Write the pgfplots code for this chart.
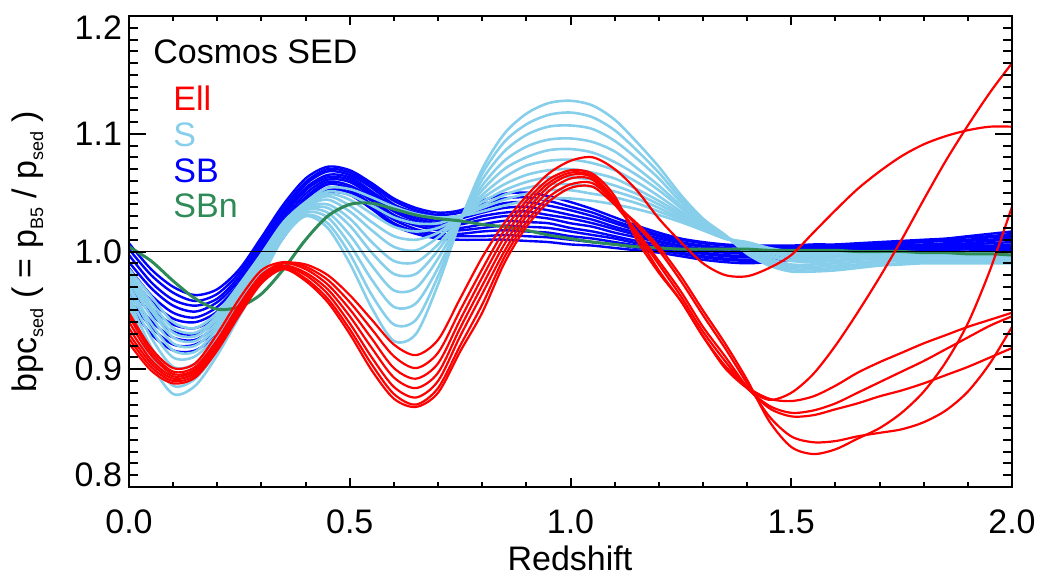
\documentclass[border=0pt]{standalone}
\usepackage{pgfplots}
\pgfplotsset{compat=1.18}
\usepackage{pgfplotstable}
\usepackage{fontspec}
\setmainfont{Liberation Sans}
\definecolor{skyb}{RGB}{135,206,235}
\definecolor{seag}{RGB}{46,139,87}
\newcommand{\lbl}{\fontsize{17}{20}\selectfont}
\newcommand{\sub}[1]{\raisebox{-0.35ex}{\fontsize{9}{10}\selectfont #1}}

\pgfplotstableread{
x r1 r2 r3 r4 r5 r6 r7
0.00 0.945 0.948 0.940 0.935 0.930 0.926 0.922
0.05 0.915 0.918 0.912 0.908 0.905 0.902 0.899
0.10 0.898 0.901 0.896 0.894 0.892 0.890 0.888
0.15 0.902 0.905 0.900 0.899 0.897 0.895 0.893
0.20 0.925 0.930 0.924 0.922 0.920 0.918 0.916
0.25 0.955 0.960 0.954 0.952 0.950 0.948 0.946
0.30 0.980 0.984 0.980 0.978 0.977 0.975 0.973
0.35 0.990 0.991 0.990 0.988 0.987 0.986 0.985
0.40 0.989 0.987 0.985 0.982 0.980 0.977 0.975
0.45 0.980 0.976 0.972 0.968 0.964 0.960 0.957
0.50 0.963 0.957 0.951 0.945 0.939 0.934 0.930
0.55 0.942 0.934 0.926 0.918 0.910 0.904 0.899
0.60 0.921 0.911 0.901 0.893 0.885 0.879 0.875
0.65 0.912 0.901 0.892 0.884 0.876 0.870 0.868
0.70 0.925 0.914 0.905 0.897 0.890 0.884 0.880
0.75 0.960 0.950 0.942 0.935 0.928 0.920 0.915
0.80 0.995 0.985 0.978 0.971 0.964 0.955 0.948
0.85 1.024 1.018 1.012 1.006 1.000 0.995 0.990
0.90 1.047 1.043 1.039 1.034 1.030 1.025 1.021
0.95 1.066 1.061 1.058 1.055 1.051 1.046 1.042
1.00 1.077 1.069 1.067 1.065 1.062 1.057 1.054
1.05 1.080 1.066 1.064 1.063 1.061 1.058 1.055
1.10 1.070 1.047 1.044 1.042 1.040 1.042 1.040
1.15 1.052 1.010 1.014 1.016 1.017 1.022 1.024
1.20 1.028 0.982 0.984 0.989 0.992 1.001 1.004
1.25 1.008 0.958 0.958 0.962 0.966 0.975 0.979
1.30 0.990 0.928 0.928 0.932 0.936 0.946 0.950
1.35 0.980 0.901 0.903 0.907 0.911 0.918 0.922
1.40 0.979 0.884 0.885 0.884 0.885 0.888 0.891
1.45 0.986 0.874 0.875 0.869 0.867 0.860 0.856
1.50 0.997 0.880 0.873 0.863 0.860 0.843 0.834
1.55 1.016 0.896 0.877 0.865 0.861 0.838 0.828
1.60 1.035 0.920 0.886 0.871 0.866 0.839 0.832
1.65 1.053 0.948 0.897 0.880 0.871 0.843 0.841
1.70 1.068 0.978 0.906 0.889 0.877 0.846 0.850
1.75 1.081 1.010 0.914 0.898 0.882 0.849 0.863
1.80 1.091 1.044 0.922 0.907 0.888 0.855 0.881
1.85 1.098 1.077 0.929 0.917 0.895 0.865 0.906
1.90 1.103 1.107 0.936 0.927 0.902 0.881 0.939
1.95 1.106 1.135 0.942 0.937 0.910 0.905 0.984
2.00 1.106 1.160 0.948 0.945 0.918 0.936 1.038
}\redtab

\pgfplotstableread{
x s1 s2 s3 s4 s5 s6 s7 s8 s9 s10 s11
0.00 0.950 0.954 0.959 0.963 0.968 0.971 0.975 0.977 0.980 0.982 0.985
0.05 0.905 0.912 0.919 0.927 0.934 0.939 0.945 0.950 0.953 0.957 0.962
0.10 0.879 0.886 0.894 0.902 0.910 0.916 0.922 0.927 0.931 0.935 0.940
0.15 0.886 0.892 0.898 0.905 0.911 0.915 0.920 0.924 0.928 0.931 0.935
0.20 0.912 0.916 0.921 0.926 0.930 0.934 0.937 0.940 0.943 0.945 0.948
0.25 0.945 0.948 0.952 0.955 0.959 0.961 0.964 0.966 0.968 0.970 0.972
0.30 0.978 0.980 0.983 0.986 0.988 0.990 0.992 0.994 0.995 0.996 0.998
0.35 1.012 1.014 1.015 1.017 1.019 1.020 1.021 1.022 1.023 1.024 1.025
0.40 1.030 1.031 1.033 1.035 1.036 1.037 1.038 1.039 1.040 1.041 1.042
0.45 1.020 1.024 1.029 1.033 1.037 1.040 1.044 1.047 1.049 1.051 1.054
0.50 0.990 0.998 1.006 1.014 1.022 1.028 1.034 1.039 1.044 1.048 1.053
0.55 0.952 0.963 0.976 0.988 0.999 1.008 1.018 1.025 1.032 1.039 1.046
0.60 0.924 0.938 0.953 0.967 0.981 0.992 1.004 1.013 1.021 1.029 1.038
0.65 0.930 0.942 0.956 0.969 0.981 0.991 1.001 1.010 1.017 1.024 1.032
0.70 0.972 0.979 0.986 0.994 1.001 1.006 1.012 1.016 1.020 1.024 1.029
0.75 1.025 1.026 1.026 1.027 1.028 1.028 1.029 1.029 1.029 1.030 1.030
0.80 1.070 1.066 1.061 1.056 1.052 1.048 1.045 1.042 1.039 1.037 1.034
0.85 1.100 1.093 1.085 1.077 1.070 1.063 1.057 1.052 1.048 1.044 1.039
0.90 1.117 1.108 1.099 1.089 1.080 1.073 1.065 1.059 1.054 1.049 1.043
0.95 1.126 1.116 1.106 1.095 1.086 1.077 1.069 1.063 1.057 1.052 1.045
1.00 1.128 1.118 1.107 1.096 1.087 1.078 1.070 1.063 1.057 1.052 1.045
1.05 1.124 1.114 1.104 1.093 1.084 1.075 1.067 1.061 1.055 1.049 1.043
1.10 1.112 1.103 1.094 1.085 1.076 1.069 1.062 1.056 1.051 1.046 1.040
1.15 1.093 1.086 1.079 1.071 1.065 1.059 1.053 1.049 1.045 1.041 1.036
1.20 1.072 1.067 1.062 1.056 1.052 1.047 1.043 1.040 1.037 1.034 1.031
1.25 1.048 1.045 1.042 1.039 1.037 1.034 1.032 1.030 1.028 1.027 1.025
1.30 1.028 1.027 1.026 1.024 1.023 1.022 1.021 1.020 1.020 1.019 1.018
1.35 1.014 1.014 1.013 1.013 1.013 1.012 1.012 1.012 1.011 1.011 1.011
1.40 0.998 0.999 1.000 1.002 1.003 1.004 1.005 1.006 1.007 1.007 1.008
1.45 0.988 0.990 0.992 0.994 0.996 0.997 0.999 1.000 1.001 1.002 1.003
1.50 0.983 0.985 0.987 0.989 0.992 0.993 0.995 0.996 0.997 0.999 1.000
1.55 0.983 0.985 0.987 0.989 0.991 0.993 0.994 0.995 0.997 0.998 0.999
1.60 0.984 0.986 0.988 0.990 0.992 0.993 0.995 0.996 0.997 0.998 0.999
1.65 0.986 0.988 0.989 0.991 0.993 0.994 0.995 0.996 0.997 0.998 0.999
1.70 0.988 0.989 0.991 0.992 0.994 0.995 0.996 0.997 0.997 0.998 0.999
1.75 0.989 0.990 0.992 0.993 0.994 0.995 0.996 0.997 0.998 0.998 0.999
1.80 0.990 0.991 0.992 0.993 0.995 0.995 0.996 0.997 0.998 0.998 0.999
1.85 0.990 0.991 0.992 0.993 0.995 0.995 0.996 0.997 0.998 0.998 0.999
1.90 0.990 0.991 0.992 0.993 0.995 0.995 0.996 0.997 0.998 0.998 0.999
1.95 0.990 0.991 0.992 0.993 0.995 0.995 0.996 0.997 0.998 0.998 0.999
2.00 0.990 0.991 0.992 0.993 0.995 0.995 0.996 0.997 0.998 0.998 0.999
}\skytab

\pgfplotstableread{
x b1 b2 b3 b4 b5 b6 b7 b8 b9 b10 b11
0.00 1.007 1.002 0.997 0.991 0.986 0.981 0.976 0.971 0.965 0.960 0.955
0.05 0.985 0.980 0.974 0.969 0.963 0.958 0.952 0.947 0.941 0.936 0.930
0.10 0.970 0.965 0.959 0.954 0.948 0.943 0.938 0.932 0.927 0.921 0.916
0.15 0.963 0.958 0.954 0.949 0.944 0.940 0.935 0.930 0.925 0.921 0.916
0.20 0.968 0.964 0.960 0.957 0.953 0.949 0.945 0.941 0.938 0.934 0.930
0.25 0.985 0.982 0.979 0.976 0.973 0.970 0.967 0.964 0.961 0.958 0.955
0.30 1.012 1.009 1.006 1.003 1.000 0.998 0.995 0.992 0.989 0.986 0.983
0.35 1.040 1.037 1.034 1.032 1.029 1.026 1.023 1.020 1.018 1.015 1.012
0.40 1.062 1.059 1.057 1.054 1.052 1.049 1.046 1.044 1.041 1.039 1.036
0.45 1.072 1.070 1.068 1.065 1.063 1.061 1.059 1.057 1.054 1.052 1.050
0.50 1.069 1.067 1.065 1.063 1.061 1.059 1.056 1.054 1.052 1.050 1.048
0.55 1.058 1.056 1.054 1.051 1.049 1.047 1.045 1.043 1.040 1.038 1.036
0.60 1.045 1.043 1.040 1.038 1.036 1.034 1.031 1.029 1.027 1.024 1.022
0.65 1.037 1.035 1.033 1.030 1.028 1.026 1.024 1.022 1.019 1.017 1.015
0.70 1.033 1.031 1.029 1.026 1.024 1.022 1.020 1.018 1.015 1.013 1.011
0.75 1.035 1.033 1.030 1.028 1.025 1.023 1.020 1.018 1.015 1.013 1.010
0.80 1.043 1.040 1.036 1.033 1.030 1.027 1.023 1.020 1.017 1.013 1.010
0.85 1.049 1.045 1.041 1.037 1.033 1.030 1.026 1.022 1.018 1.014 1.010
0.90 1.050 1.046 1.042 1.038 1.034 1.030 1.025 1.021 1.017 1.013 1.009
0.95 1.047 1.043 1.039 1.035 1.031 1.028 1.024 1.020 1.016 1.012 1.008
1.00 1.042 1.038 1.035 1.031 1.028 1.024 1.020 1.017 1.013 1.010 1.006
1.05 1.036 1.033 1.030 1.027 1.024 1.021 1.017 1.014 1.011 1.008 1.005
1.10 1.029 1.026 1.024 1.021 1.019 1.016 1.013 1.011 1.008 1.006 1.003
1.15 1.022 1.020 1.018 1.016 1.014 1.012 1.009 1.007 1.005 1.003 1.001
1.20 1.016 1.014 1.013 1.011 1.009 1.008 1.006 1.004 1.002 1.001 0.999
1.25 1.011 1.010 1.008 1.007 1.005 1.004 1.002 1.001 0.999 0.998 0.996
1.30 1.008 1.007 1.005 1.004 1.002 1.001 0.999 0.998 0.996 0.995 0.993
1.35 1.006 1.005 1.003 1.002 1.000 0.999 0.997 0.996 0.994 0.993 0.991
1.40 1.005 1.004 1.002 1.001 0.999 0.998 0.996 0.995 0.993 0.992 0.990
1.45 1.005 1.004 1.002 1.001 0.999 0.998 0.997 0.995 0.994 0.992 0.991
1.50 1.005 1.004 1.003 1.001 1.000 0.999 0.998 0.997 0.995 0.994 0.993
1.55 1.006 1.005 1.004 1.003 1.002 1.001 0.999 0.998 0.997 0.996 0.995
1.60 1.006 1.005 1.004 1.003 1.003 1.002 1.001 1.000 0.999 0.998 0.997
1.65 1.007 1.006 1.005 1.004 1.004 1.003 1.002 1.001 1.000 0.999 0.998
1.70 1.008 1.007 1.006 1.005 1.005 1.004 1.003 1.002 1.001 1.000 0.999
1.75 1.009 1.008 1.007 1.006 1.005 1.004 1.003 1.002 1.001 1.000 0.999
1.80 1.010 1.009 1.008 1.006 1.005 1.004 1.003 1.002 1.001 1.000 0.999
1.85 1.011 1.010 1.009 1.007 1.006 1.005 1.004 1.003 1.001 1.000 0.999
1.90 1.013 1.012 1.010 1.009 1.007 1.006 1.005 1.003 1.002 1.000 0.999
1.95 1.015 1.013 1.012 1.010 1.009 1.007 1.005 1.004 1.002 1.001 0.999
2.00 1.017 1.015 1.013 1.012 1.010 1.008 1.006 1.004 1.003 1.001 0.999
}\bluetab

\pgfplotstableread{
x g
0.00 1.004
0.05 0.992
0.10 0.975
0.15 0.960
0.20 0.951
0.25 0.953
0.30 0.964
0.35 0.985
0.40 1.010
0.45 1.030
0.50 1.040
0.55 1.041
0.60 1.036
0.65 1.031
0.70 1.028
0.75 1.026
0.80 1.023
0.85 1.021
0.90 1.018
0.95 1.014
1.00 1.011
1.05 1.008
1.10 1.006
1.15 1.004
1.20 1.003
1.25 1.002
1.30 1.002
1.35 1.002
1.40 1.002
1.45 1.001
1.50 1.001
1.55 1.001
1.60 1.001
1.65 1.000
1.70 1.000
1.75 1.000
1.80 0.999
1.85 0.999
1.90 0.998
1.95 0.998
2.00 0.997
}\greentab

\begin{document}
\begin{tikzpicture}
\path[use as bounding box] (-64.5pt,-44pt) rectangle (455.5pt,243.5pt);
\begin{axis}[
  width=441.5pt, height=235.5pt, scale only axis,
  xmin=0, xmax=2, ymin=0.8, ymax=1.2,
  axis line style={line width=1pt},
  xtick={0,0.5,1,1.5,2}, xticklabels={0.0,0.5,1.0,1.5,2.0},
  minor x tick num=4,
  ytick=\empty,
  tick align=inside, xtick pos=both,
  major tick length=4.65pt, minor tick length=2.5pt,
  tick style={black, line width=1pt},
  xticklabel style={font=\lbl, anchor=base, yshift=-23pt},
]
\pgfplotsinvokeforeach{1,...,11}{
  \addplot[blue, line width=1.2pt, smooth] table[x=x, y=b#1] {\bluetab};
}
\pgfplotsinvokeforeach{1,...,11}{
  \addplot[skyb, line width=1.3pt, smooth] table[x=x, y=s#1] {\skytab};
}
\addplot[seag, line width=1.5pt, smooth] table[x=x, y=g] {\greentab};
\addplot[black, line width=0.8pt] coordinates {(0,1) (2,1)};
\pgfplotsinvokeforeach{1,...,7}{
  \addplot[red, line width=1.1pt, smooth] table[x=x, y=r#1] {\redtab};
}
\end{axis}
\begin{axis}[
  width=441.5pt, height=235.5pt, scale only axis,
  xmin=0, xmax=2, ymin=0.8, ymax=1.2,
  axis line style={line width=1pt},
  xtick=\empty,
  ytick={0.8,0.9,1.0,1.1,1.2}, yticklabels={,0.9,1.0,1.1,},
  minor y tick num=9,
  tick align=inside, ytick pos=both,
  major tick length=8.5pt, minor tick length=4.5pt,
  tick style={black, line width=1pt},
  yticklabel style={font=\lbl},
]
\end{axis}
\node[font=\lbl, anchor=east] at (0pt,6pt) {0.8};
\node[font=\lbl, anchor=east] at (0pt,229.75pt) {1.2};
\node[font=\lbl, rotate=90] at (-50.5pt,117.75pt) {bpc\sub{sed} ( = p\sub{B5} / p\sub{sed} )};
\node[font=\lbl, anchor=base] at (220.5pt,-41.5pt) {Redshift};
\node[font=\lbl, anchor=base west, inner sep=0pt] at (12pt,212pt) {Cosmos SED};
\node[font=\lbl, anchor=base west, inner sep=0pt, text=red] at (22pt,188.5pt) {Ell};
\node[font=\lbl, anchor=base west, inner sep=0pt, text=skyb] at (22pt,170.5pt) {S};
\node[font=\lbl, anchor=base west, inner sep=0pt, text=blue] at (22pt,152.5pt) {SB};
\node[font=\lbl, anchor=base west, inner sep=0pt, text=seag] at (22pt,135pt) {SBn};
\end{tikzpicture}
\end{document}
